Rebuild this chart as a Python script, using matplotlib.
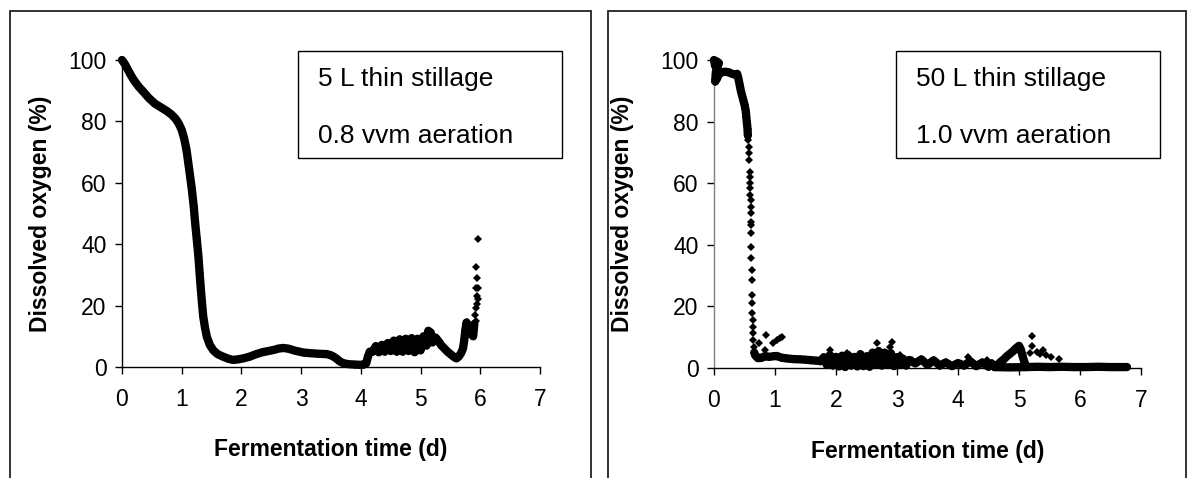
import matplotlib
matplotlib.use('Agg')
from matplotlib import pyplot as plt
from matplotlib.patches import Rectangle

plt.rcParams['font.family'] = ['Liberation Sans', 'DejaVu Sans']

# --- data (time in d, dissolved oxygen in %) ---

# 5 L run: continuous trace
left_trace = [(0.00, 100), (0.05, 98.6), (0.10, 96.8), (0.15, 95.0), (0.20, 93.4),
              (0.28, 91.3), (0.36, 89.6), (0.45, 87.6), (0.55, 85.8), (0.65, 84.6),
              (0.75, 83.4), (0.83, 82.2), (0.90, 80.8), (0.95, 79.3), (1.00, 77.2),
              (1.04, 74.5), (1.08, 70.8), (1.11, 66.5), (1.14, 62.2), (1.17, 57.8),
              (1.20, 52.5), (1.22, 48.0), (1.25, 42.0), (1.28, 36.0), (1.30, 30.5),
              (1.32, 25.5), (1.34, 20.8), (1.36, 16.5), (1.39, 12.8), (1.42, 9.9),
              (1.47, 7.2), (1.53, 5.4), (1.60, 4.2), (1.70, 3.3), (1.78, 2.7),
              (1.86, 2.3), (1.95, 2.5), (2.05, 2.9), (2.14, 3.4), (2.25, 4.2),
              (2.35, 4.8), (2.45, 5.2), (2.55, 5.6), (2.62, 6.0), (2.70, 6.2),
              (2.78, 6.0), (2.90, 5.3), (3.04, 4.7), (3.15, 4.5), (3.30, 4.3),
              (3.43, 4.2), (3.50, 3.8), (3.55, 3.3), (3.60, 2.6), (3.65, 1.8),
              (3.71, 1.2), (3.80, 0.9), (3.90, 0.8), (3.99, 0.7), (4.05, 0.8),
              (4.09, 1.2), (4.12, 3.5), (4.15, 5.0), (4.20, 5.0), (4.25, 6.8),
              (4.30, 4.8), (4.35, 7.2), (4.40, 5.0), (4.45, 7.8), (4.50, 5.2),
              (4.55, 8.6), (4.60, 5.0), (4.65, 9.0), (4.70, 5.0), (4.75, 9.2),
              (4.80, 5.2), (4.85, 9.4), (4.90, 4.8), (4.95, 9.2), (5.00, 5.4),
              (5.05, 10.0), (5.10, 7.0), (5.13, 11.8), (5.17, 11.2), (5.20, 8.0),
              (5.25, 9.6), (5.30, 8.4), (5.35, 7.0), (5.40, 6.0), (5.45, 5.0),
              (5.50, 4.2), (5.55, 3.4), (5.60, 2.8), (5.64, 3.4), (5.68, 4.6),
              (5.71, 6.0), (5.73, 8.5), (5.75, 12.0), (5.77, 14.5), (5.79, 13.0),
              (5.82, 10.8), (5.85, 11.8), (5.88, 10.0), (5.90, 14.0)]
# 5 L run: last separate readings
left_spike = [(5.91, 17.0), (5.92, 15.0), (5.93, 19.1), (5.95, 20.5), (5.94, 23.1),
              (5.96, 22.0), (5.93, 25.8), (5.96, 25.8), (5.95, 28.9), (5.93, 32.7),
              (5.97, 41.6)]

# 50 L run
right_top = [(0.00, 100), (0.02, 98.0), (0.05, 99.5), (0.08, 99.0), (0.03, 96.0),
             (0.02, 93.0), (0.05, 94.0), (0.08, 95.5), (0.12, 96.0), (0.18, 96.2),
             (0.24, 96.0), (0.30, 95.5), (0.35, 95.2), (0.38, 95.5), (0.40, 94.0),
             (0.42, 92.0), (0.44, 90.0), (0.46, 88.5), (0.48, 87.0), (0.50, 85.5),
             (0.52, 83.5), (0.53, 81.5), (0.54, 79.5), (0.55, 77.5), (0.555, 75.5)]
right_drop = [(0.562, 74.0), (0.568, 71.9), (0.573, 69.7), (0.579, 67.5), (0.589, 63.7),
              (0.589, 62.1), (0.589, 60.0), (0.595, 58.3), (0.595, 56.2), (0.600, 54.5),
              (0.600, 52.4), (0.600, 50.2), (0.606, 47.5), (0.606, 46.4), (0.611, 43.7),
              (0.611, 39.4), (0.611, 35.6), (0.617, 31.8), (0.617, 28.6), (0.623, 23.7),
              (0.628, 21.0), (0.628, 17.8), (0.634, 15.6), (0.634, 13.4), (0.645, 11.3),
              (0.645, 9.1), (0.656, 6.9)]
right_low = [(0.66, 5.0), (0.68, 4.0), (0.72, 3.2), (0.78, 3.3), (0.84, 3.9), (0.90, 3.6),
             (0.97, 3.8), (1.03, 3.9), (1.10, 3.4), (1.19, 3.1), (1.30, 2.9), (1.41, 2.8),
             (1.50, 2.7), (1.60, 2.5), (1.68, 2.4), (1.75, 2.2), (1.80, 3.5), (1.85, 1.0),
             (1.90, 4.2), (1.95, 0.8), (2.00, 3.6), (2.05, 0.5), (2.10, 4.0), (2.15, 0.3),
             (2.20, 4.2), (2.25, 0.8), (2.30, 3.6), (2.35, 0.5), (2.40, 4.5), (2.45, 0.6),
             (2.50, 3.8), (2.55, 0.4), (2.60, 5.0), (2.65, 1.0), (2.70, 5.5), (2.75, 0.8),
             (2.80, 5.0), (2.85, 1.2), (2.90, 4.8), (2.95, 0.6), (3.00, 3.5), (3.05, 1.0),
             (3.10, 3.0), (3.15, 0.8), (3.20, 2.6), (3.30, 1.5), (3.40, 2.8), (3.50, 1.0),
             (3.60, 2.5), (3.70, 0.8), (3.80, 1.8), (3.90, 0.6), (4.00, 1.6), (4.10, 0.8),
             (4.20, 2.2), (4.30, 0.6), (4.40, 1.8), (4.50, 0.4), (4.55, 1.5), (4.60, 0.3),
             (4.65, 1.0), (4.70, 2.0), (4.75, 2.8), (4.80, 3.8), (4.85, 4.6), (4.90, 5.4),
             (4.95, 6.4), (5.00, 7.2), (5.03, 6.0), (5.06, 3.8), (5.09, 1.8), (5.12, 0.3),
             (5.30, 0.4), (5.50, 0.3), (5.70, 0.4), (5.90, 0.3), (6.10, 0.3), (6.30, 0.4),
             (6.50, 0.3), (6.77, 0.3)]
right_base = [(4.60, 0.3), (4.85, 0.2), (5.12, 0.3)]
right_scatter = [(0.73, 8.0), (0.84, 5.8), (0.86, 10.7), (0.97, 8.0), (1.03, 9.0),
                 (1.08, 9.8), (1.11, 10.2), (1.90, 5.8), (2.18, 4.8), (2.67, 8.0),
                 (2.89, 6.9), (2.91, 8.5), (3.05, 4.2), (3.24, 2.6), (4.17, 3.7),
                 (4.47, 2.6), (5.18, 4.8), (5.21, 10.4), (5.22, 7.3), (5.29, 5.3),
                 (5.35, 4.5), (5.40, 5.8), (5.45, 4.2), (5.53, 3.7), (5.65, 2.8)]

left_notes = ['5 L thin stillage', '0.8 vvm aeration']
right_notes = ['50 L thin stillage', '1.0 vvm aeration']

x_ticks = [0, 1, 2, 3, 4, 5, 6, 7]
y_ticks = [0, 20, 40, 60, 80, 100]

W, H = 1191, 478


def px_box(x0, y0, x1, y1):
    # pixel box (top-left origin) -> figure fraction [left, bottom, w, h]
    return [x0 / W, 1 - y1 / H, (x1 - x0) / W, (y1 - y0) / H]


def draw_trace(ax, pts, line=True):
    t, v = zip(*pts)
    ax.plot(t, v, ls='-' if line else 'none', color='black', lw=6,
            solid_joinstyle='round', solid_capstyle='round',
            marker='D', ms=4.5, mew=0, mfc='black', clip_on=False, zorder=3)


def style_axes(ax, yspine_color):
    ax.set_xlim(0, 7)
    ax.set_ylim(0, 100)
    ax.set_xticks(x_ticks)
    ax.set_yticks(y_ticks)
    ax.spines[['top', 'right']].set_visible(False)
    ax.spines['bottom'].set_linewidth(1.0)
    ax.spines['left'].set_linewidth(1.0)
    ax.spines['left'].set_color(yspine_color)
    ax.tick_params(axis='both', direction='out', length=5, width=1.0,
                   labelsize=16.5, color='black')
    ax.tick_params(axis='x', pad=10)
    ax.tick_params(axis='y', pad=6)
    ax.set_xlabel('Fermentation time (d)', fontsize=16.5, fontweight='bold', va='center')
    ax.set_ylabel('Dissolved oxygen (%)', fontsize=16.5, fontweight='bold', va='center')
    ax.xaxis.set_label_coords(0.5, -0.27)
    ax.patch.set_alpha(0)


def add_frame(fig, x0, x1, top):
    fig.add_artist(Rectangle((x0 / W, -0.05), (x1 - x0) / W, 1 - top / H + 0.05,
                             transform=fig.transFigure, fill=False,
                             ec='#222222', lw=1.3, clip_on=False))


def add_note(fig, x0, y0, x1, y1, lines):
    fig.add_artist(Rectangle((x0 / W, 1 - y1 / H), (x1 - x0) / W, (y1 - y0) / H,
                             transform=fig.transFigure, fill=False,
                             ec='black', lw=1.0))
    for i, txt in enumerate(lines):
        fig.text((x0 + 20) / W, 1 - (79 + 57 * i) / H, txt, fontsize=19,
                 ha='left', va='center')


fig = plt.figure(figsize=(W / 100, H / 100), dpi=100)

add_frame(fig, 10, 591, 11)
add_frame(fig, 608, 1186, 11)

ax1 = fig.add_axes(px_box(122, 60, 540, 367))
style_axes(ax1, 'black')
ax1.yaxis.set_label_coords(-0.194, 0.5)
draw_trace(ax1, left_trace)
draw_trace(ax1, left_spike, line=False)

ax2 = fig.add_axes(px_box(714, 60, 1141, 368))
style_axes(ax2, '#808080')
ax2.yaxis.set_label_coords(-0.215, 0.5)
draw_trace(ax2, right_top)
draw_trace(ax2, right_drop, line=False)
draw_trace(ax2, right_low)
draw_trace(ax2, right_base)
draw_trace(ax2, right_scatter, line=False)

add_note(fig, 298, 51, 562, 158, left_notes)
add_note(fig, 896, 51, 1160, 158, right_notes)

fig.savefig('out.png', dpi=100)
